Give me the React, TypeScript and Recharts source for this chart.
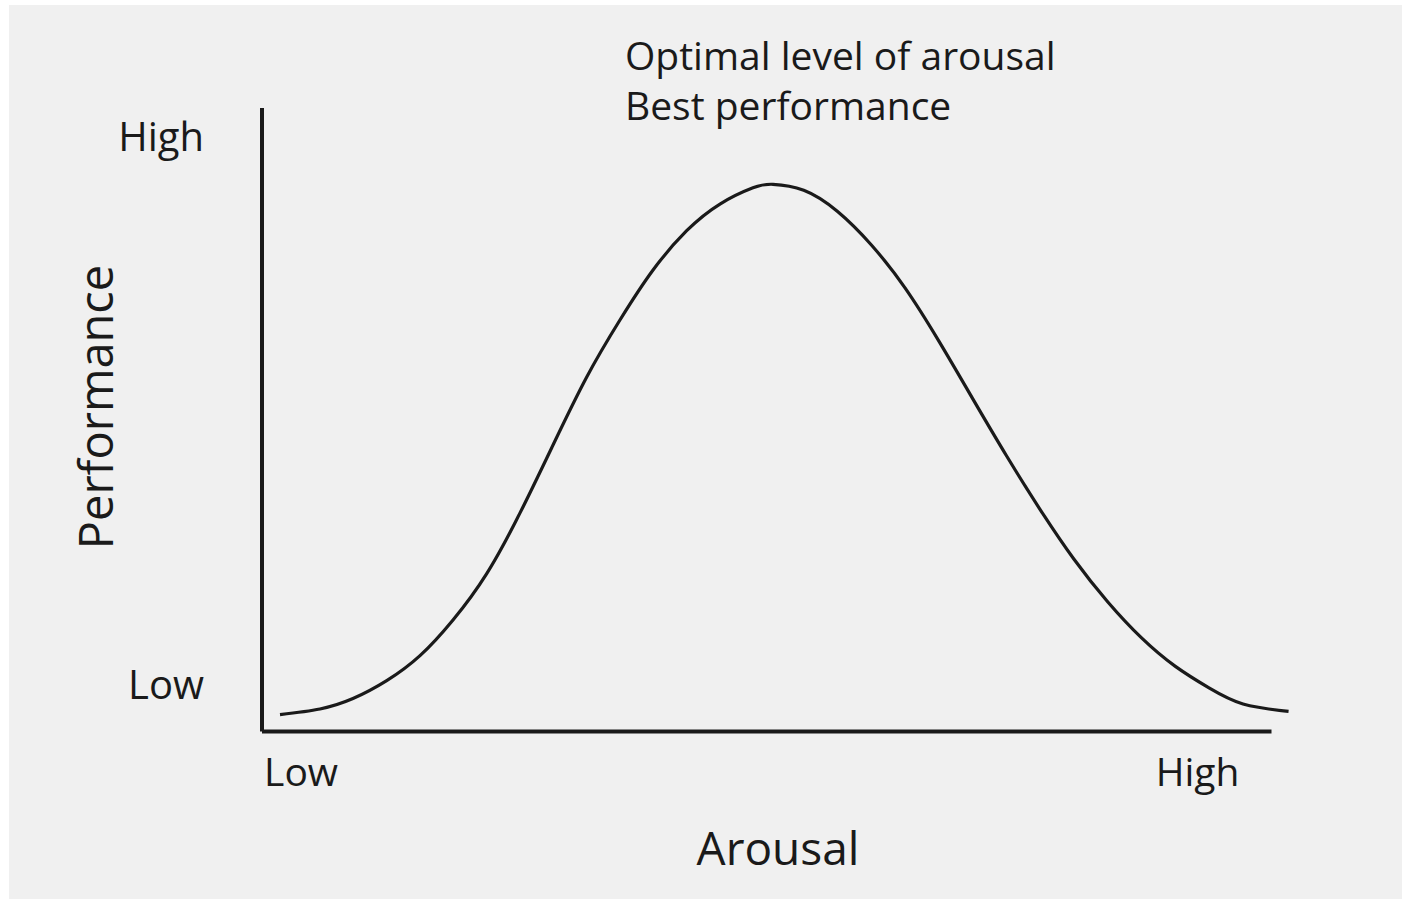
import { LineChart, Line, XAxis, YAxis, ReferenceLine } from 'recharts'

// arousal (x) vs performance (y), both on a 0-100 scale
const arousal = [
  1.75, 5.64, 8.85, 12.13, 15.37, 18.58, 21.86, 25.1, 28.31, 31.59, 34.82, 38.04, 41.31, 44.55,
  47.76, 49.71, 52.7, 55.99, 59.28, 62.55, 65.86, 69.13, 72.42, 75.68, 78.99, 82.28, 85.56, 88.85,
  92.12, 95.43, 99.86,
]
const performance = [
  2.71, 3.61, 5.28, 8.15, 12.16, 17.88, 25.32, 35.06, 45.95, 56.86, 66.0, 74.02, 80.32, 84.6,
  87.2, 87.76, 86.8, 83.4, 78.03, 71.15, 62.57, 53.39, 44.23, 35.64, 27.62, 20.77, 15.01, 10.44,
  6.99, 4.41, 3.22,
]

const xTicks = [3.8, 91]
const xTickLabels = ['Low', 'High']
const yTicks = [7.5, 95.4]
const yTickLabels = ['Low', 'High']
const xAxisEnd = 98.2

const titleLines = ['Optimal level of arousal', 'Best performance']

const FONT = "'Open Sans', sans-serif"
const INK = '#1a1a1a'

const data = arousal.map((a, i) => ({ arousal: a, performance: performance[i] }))

const XTick = (props: any) => {
  const { x, y, payload } = props
  const idx = xTicks.indexOf(payload.value)
  return (
    <text x={x} y={y + 54} textAnchor="middle" fontSize={39} fontFamily={FONT} fill={INK}>
      {xTickLabels[idx]}
    </text>
  )
}

const YTick = (props: any) => {
  const { x, y, payload } = props
  const idx = yTicks.indexOf(payload.value)
  return (
    <text x={x} y={y + 14} textAnchor="end" fontSize={40} fontFamily={FONT} fill={INK}>
      {yTickLabels[idx]}
    </text>
  )
}

export default function App() {
  return (
    <div style={{ position: 'fixed', left: 9, top: 5, right: 0, bottom: 0, background: '#f0f0f0' }}>
      <LineChart width={1393} height={894} data={data} margin={{ top: 103, right: 112, bottom: 107.5, left: 153 }}>
        <XAxis
          dataKey="arousal"
          type="number"
          domain={[0, 100]}
          ticks={xTicks}
          axisLine={false}
          tickLine={false}
          tickSize={0}
          tickMargin={0}
          height={60}
          tick={<XTick />}
        />
        <YAxis
          type="number"
          domain={[0, 100]}
          ticks={yTicks}
          width={100}
          axisLine={{ stroke: INK, strokeWidth: 4 }}
          tickLine={false}
          tickSize={0}
          tickMargin={58}
          tick={<YTick />}
        />
        <ReferenceLine
          segment={[{ x: 0, y: 0 }, { x: xAxisEnd, y: 0 }]}
          stroke={INK}
          strokeWidth={4}
        />
        <Line
          type="natural"
          dataKey="performance"
          stroke={INK}
          strokeWidth={3.2}
          dot={false}
          isAnimationActive={false}
        />
        <text x={616} y={65} fontSize={39} fontFamily={FONT} fill={INK}>
          {titleLines[0]}
        </text>
        <text x={616} y={115} fontSize={39} fontFamily={FONT} fill={INK}>
          {titleLines[1]}
        </text>
        <text x={769} y={860} textAnchor="middle" fontSize={46} fontFamily={FONT} fill={INK}>
          Arousal
        </text>
        <text
          transform="translate(104,402) rotate(-90)"
          textAnchor="middle"
          fontSize={47}
          fontFamily={FONT}
          fill={INK}
        >
          Performance
        </text>
      </LineChart>
    </div>
  )
}
